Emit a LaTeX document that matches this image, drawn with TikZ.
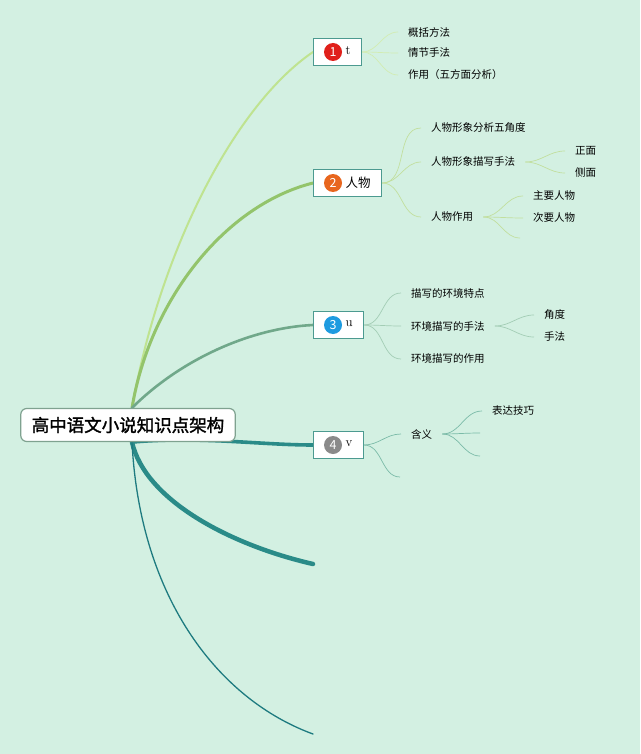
\documentclass[tikz,border=0pt]{standalone}
\usepackage{fontspec}
\newfontfamily\cjk{Noto Sans CJK SC}
\newfontfamily\cjkbf{Noto Sans CJK SC}[FakeBold=1.6]
\usepackage{xcolor}
\usetikzlibrary{positioning}
\usetikzlibrary{backgrounds}

\definecolor{paper}{HTML}{D3F0E2}
\definecolor{rootline}{HTML}{7FA290}
\definecolor{topicline}{HTML}{4C9A90}
\definecolor{numred}{HTML}{E0201B}
\definecolor{numorange}{HTML}{E8661E}
\definecolor{numblue}{HTML}{1E9BE0}
\definecolor{numgrey}{HTML}{8A8A8A}
\definecolor{bra}{HTML}{BFE390}
\definecolor{brb}{HTML}{93C46B}
\definecolor{brc}{HTML}{70A88A}
\definecolor{brd}{HTML}{2A8B88}
\definecolor{bre}{HTML}{1E7B80}
\definecolor{twa}{HTML}{D2ECB2}
\definecolor{twb}{HTML}{C2DF9E}
\definecolor{twc}{HTML}{A3CDB5}
\definecolor{twd}{HTML}{7BBBA8}

\begin{document}
\begin{tikzpicture}[x=1pt, y=-1pt,
		root/.style = {rectangle, rounded corners=6, draw=rootline, fill=white, line width=1.2,
			font=\cjkbf\fontsize{17.5}{20}\selectfont, inner xsep=11, minimum height=33},
		topic/.style = {rectangle, draw=topicline, fill=white, line width=1.2, anchor=west,
			inner xsep=11, inner ysep=0, minimum height=27, font=\fontsize{13}{13}\selectfont},
		badge/.style = {circle, fill=#1, text=white, inner sep=0, minimum size=18,
			font=\cjk\fontsize{12.5}{12.5}\selectfont},
		leaf/.style = {inner xsep=10, inner ysep=1, anchor=west, font=\cjk\fontsize{10.5}{12}\selectfont},
		bough/.style = {draw=#1, line cap=round},
		twig/.style = {draw=#1, line width=0.7, out=0, in=180}
		]
		
		\useasboundingbox (0,0) rectangle (640,754);
		
		%Nodes
		\node[root]	(root)	at	(128,425)	{高中语文小说知识点架构};
		\coordinate	(hubup)	at	([xshift=4]root.north);
		\coordinate	(hubdown)	at	([xshift=4]root.south);
		
		\node[topic]	(t1)	at	(313,52)	{\hspace{21pt}\raisebox{2pt}{t}};
		\node[badge=numred]	(b1)	at	([xshift=20]t1.west)	{1};
		\node[topic]	(t2)	at	(313,183)	{\hspace{21pt}{\cjk\fontsize{12.5}{13}\selectfont 人物}};
		\node[badge=numorange]	(b2)	at	([xshift=20]t2.west)	{2};
		\node[topic]	(t3)	at	(313,325)	{\hspace{21pt}\raisebox{2pt}{u}};
		\node[badge=numblue]	(b3)	at	([xshift=20]t3.west)	{3};
		\node[topic]	(t4)	at	(313,445)	{\hspace{21pt}\raisebox{2pt}{v}};
		\node[badge=numgrey]	(b4)	at	([xshift=20]t4.west)	{4};
		\coordinate	(t5)	at	(313,564);
		\coordinate	(t6)	at	(313,734);
		
		\node[leaf]	(a1)	at	(398,32)	{概括方法};
		\node[leaf]	(a2)	at	(398,53)	{情节手法};
		\node[leaf]	(a3)	at	(398,75)	{作用（五方面分析）};
		
		\node[leaf]	(p1)	at	(421,128)	{人物形象分析五角度};
		\node[leaf]	(p2)	at	(421,162)	{人物形象描写手法};
		\node[leaf]	(p3)	at	(421,217)	{人物作用};
		\node[leaf]	(p21)	at	(565,151)	{正面};
		\node[leaf]	(p22)	at	(565,173)	{侧面};
		\node[leaf]	(p31)	at	(523,196)	{主要人物};
		\node[leaf]	(p32)	at	(523,218)	{次要人物};
		\coordinate	(p33)	at	(520,238);
		
		\node[leaf]	(e1)	at	(401,293)	{描写的环境特点};
		\node[leaf]	(e2)	at	(401,326)	{环境描写的手法};
		\node[leaf]	(e3)	at	(401,359)	{环境描写的作用};
		\node[leaf]	(e21)	at	(534,315)	{角度};
		\node[leaf]	(e22)	at	(534,337)	{手法};
		
		\node[leaf]	(m1)	at	(401,434)	{含义};
		\coordinate	(m2)	at	(400,477);
		\node[leaf]	(m11)	at	(482,411)	{表达技巧};
		\coordinate	(m12)	at	(480,433);
		\coordinate	(m13)	at	(480,456);
		
		%Lines
		\begin{scope}[on background layer]
			\fill[paper] (0,0) rectangle (640,754);
			\draw[bough=bra, line width=2]	(hubup)	.. controls (160,250) and (235,105) ..	(t1.west);
			\draw[bough=brb, line width=3]	(hubup)	.. controls (150,300) and (225,205) ..	(t2.west);
			\draw[bough=brc, line width=2.6]	(hubup)	.. controls (180,360) and (250,328) ..	(t3.west);
			\draw[bough=brd, line width=3.6]	(hubdown)	.. controls (200,436) and (260,445) ..	(t4.west);
			\draw[bough=brd, line width=4.5]	(hubdown)	.. controls (145,500) and (230,545) ..	(t5);
			\draw[bough=bre, line width=1.3]	(hubdown)	.. controls (140,600) and (220,700) ..	(t6);
		\end{scope}
		
		\draw[twig=twa]	(t1.east)	to	(a1.west);
		\draw[twig=twa]	(t1.east)	to	(a2.west);
		\draw[twig=twa]	(t1.east)	to	(a3.west);
		
		\draw[twig=twb]	(t2.east)	to	(p1.west);
		\draw[twig=twb]	(t2.east)	to	(p2.west);
		\draw[twig=twb]	(t2.east)	to	(p3.west);
		\draw[twig=twb]	(p2.east)	to	(p21.west);
		\draw[twig=twb]	(p2.east)	to	(p22.west);
		\draw[twig=twb]	(p3.east)	to	(p31.west);
		\draw[twig=twb]	(p3.east)	to	(p32.west);
		\draw[twig=twb]	(p3.east)	to	(p33);
		
		\draw[twig=twc]	(t3.east)	to	(e1.west);
		\draw[twig=twc]	(t3.east)	to	(e2.west);
		\draw[twig=twc]	(t3.east)	to	(e3.west);
		\draw[twig=twc]	(e2.east)	to	(e21.west);
		\draw[twig=twc]	(e2.east)	to	(e22.west);
		
		\draw[twig=twd]	(t4.east)	to	(m1.west);
		\draw[twig=twd]	(t4.east)	to	(m2);
		\draw[twig=twd]	(m1.east)	to	(m11.west);
		\draw[twig=twd]	(m1.east)	to	(m12);
		\draw[twig=twd]	(m1.east)	to	(m13);
	\end{tikzpicture}
\end{document}
